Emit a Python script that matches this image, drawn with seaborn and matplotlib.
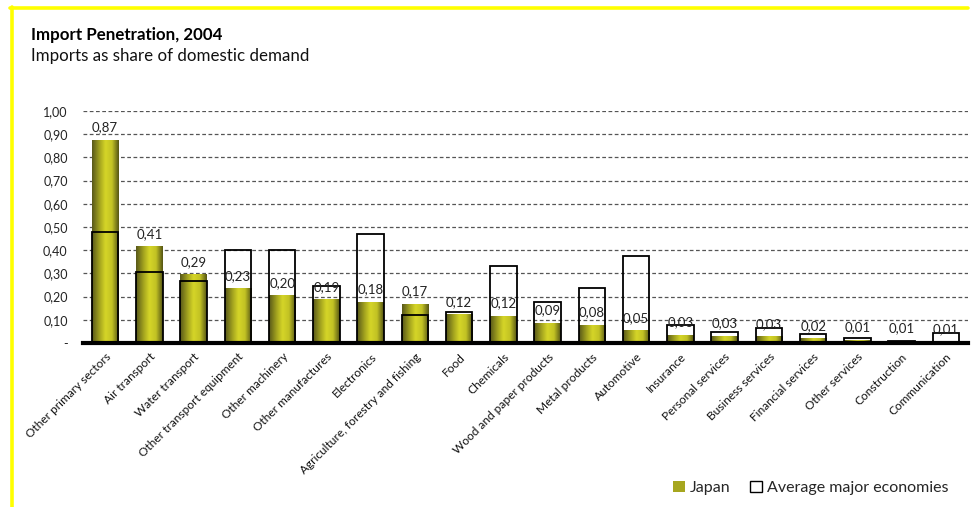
import numpy as np
import pandas as pd
import seaborn as sns
import matplotlib.pyplot as plt
from matplotlib.colors import LinearSegmentedColormap
from matplotlib.patches import Patch
from matplotlib.lines import Line2D

# Data
sectors = ["Other primary sectors", "Air transport", "Water transport",
           "Other transport equipment", "Other machinery", "Other manufactures",
           "Electronics", "Agriculture, forestry and fishing", "Food", "Chemicals",
           "Wood and paper products", "Metal products", "Automotive", "Insurance",
           "Personal services", "Business services", "Financial services",
           "Other services", "Construction", "Communication"]
japan = [0.874, 0.414, 0.294, 0.234, 0.203, 0.187, 0.176, 0.166, 0.121, 0.116,
         0.086, 0.076, 0.053, 0.034, 0.028, 0.026, 0.018, 0.012, 0.006, 0.005]
average = [0.478, 0.304, 0.266, 0.399, 0.403, 0.244, 0.470, 0.121, 0.135, 0.330,
           0.175, 0.237, 0.374, 0.076, 0.047, 0.066, 0.037, 0.022, 0.009, 0.041]

df = pd.DataFrame({"sector": sectors, "japan": japan, "average": average})

sns.set_style("white")
plt.rcParams["font.family"] = ["Lato", "DejaVu Sans"]

fig = plt.figure(figsize=(9.73, 5.07), dpi=100)
ax = fig.add_axes([0.0853, 0.3235, 0.9096, 0.4575])

# Japan bars (gradient fill added afterwards)
sns.barplot(data=df, x="sector", y="japan", color="#b5b520", width=0.6,
            linewidth=0, ax=ax)
jp_bars = list(ax.patches)

grad = LinearSegmentedColormap.from_list(
    "olive", ["#58581a", "#9c9c1e", "#d6d628", "#c2c224", "#555514"])
g = np.linspace(0, 1, 64).reshape(1, -1)
for p in jp_bars:
    x0, w, h = p.get_x(), p.get_width(), p.get_height()
    ax.imshow(g, cmap=grad, aspect="auto", extent=[x0, x0 + w, 0, h],
              zorder=2.5, interpolation="bicubic")
    p.set_facecolor("none")

# Average major economies: outline only
sns.barplot(data=df, x="sector", y="average", color="black", fill=False,
            width=0.6, linewidth=1.3, ax=ax)
for p in ax.patches[len(jp_bars):]:
    p.set_zorder(3)

# data labels (Japan)
for i, v in enumerate(japan):
    ax.annotate(f"{v:.2f}".replace(".", ","), (i, v), xytext=(0, 5),
                textcoords="offset points", ha="center", va="bottom",
                fontsize=9.5, color="#222222", zorder=5)

ax.set_xlim(-0.5, len(sectors) - 0.5)
ax.set_ylim(0, 1.0)
yt = np.round(np.arange(0, 1.01, 0.1), 2)
ax.set_yticks(yt)
ax.set_yticklabels(["-"] + [f"{t:.2f}".replace(".", ",") for t in yt[1:]],
                   fontsize=9, color="#222222")
ax.tick_params(axis="y", length=0, pad=11)
for t in yt[1:]:
    ax.axhline(t, color="#555555", lw=0.9, ls=(0, (3, 2)), zorder=1)

ax.set_xticks(range(len(sectors)))
ax.set_xticklabels(sectors, rotation=45, ha="right", rotation_mode="anchor",
                   fontsize=8.6, color="#111111")
ax.tick_params(axis="x", which="major", length=0, pad=6)
ax.set_xticks(np.arange(-0.5, len(sectors), 1), minor=True)
ax.tick_params(axis="x", which="minor", length=4, width=1.8, color="black",
               direction="out")
ax.set_xlabel("")
ax.set_ylabel("")

for s in ["top", "right", "left"]:
    ax.spines[s].set_visible(False)
ax.spines["bottom"].set_linewidth(3)
ax.spines["bottom"].set_color("black")
ax.spines["bottom"].set_zorder(6)

# titles
fig.text(31 / 973, 1 - 35 / 507, "Import Penetration, 2004", fontsize=12.2,
         fontweight="bold", va="center", ha="left", color="black")
fig.text(31 / 973, 1 - 56 / 507, "Imports as share of domestic demand",
         fontsize=12.2, va="center", ha="left", color="#111111")

# yellow frame
fig.add_artist(Line2D([10 / 973, 968 / 973], [1 - 8 / 507, 1 - 8 / 507],
                      color="#ffff00", lw=2.6, transform=fig.transFigure))
fig.add_artist(Line2D([11.5 / 973, 11.5 / 973], [1 - 7 / 507, 0],
                      color="#ffff00", lw=2.6, transform=fig.transFigure))

handles = [Patch(facecolor="#a6a61f", edgecolor="none", label="Japan"),
           Patch(facecolor="white", edgecolor="black", linewidth=1,
                 label="Average major economies")]
fig.legend(handles=handles, loc="center left", bbox_to_anchor=(0.677, 0.038),
           ncol=2, frameon=False, fontsize=11.5, handlelength=0.75,
           handleheight=0.75, handletextpad=0.3, columnspacing=1.25)

fig.savefig("out.png", dpi=100)
